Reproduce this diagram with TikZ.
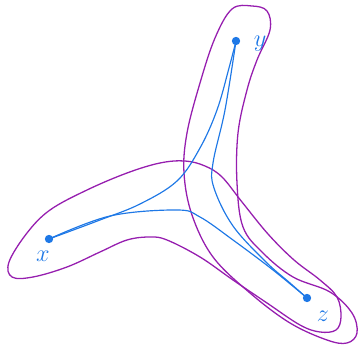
\documentclass[tikz,border=0pt]{standalone}
\usepackage{tikz}
\usetikzlibrary{positioning}

\definecolor{hyperpurple}{RGB}{150,30,175}
\definecolor{pathblue}{RGB}{30,120,230}

\begin{document}
\begin{tikzpicture}[
    x=0.03cm, y=-0.03cm,
    vertex/.style={
        circle,
        fill=pathblue,
        inner sep=0pt,
        minimum size=0.25cm
    },
    vlabel/.style={
        text=pathblue,
        font=\fontsize{20}{22}\selectfont
    },
    hyper/.style={
        draw=hyperpurple,
        line width=1.1pt
    },
    route/.style={
        draw=pathblue,
        line width=1pt
    }
]
\useasboundingbox (0,0) rectangle (359,346);

% === Vertices ===
\node[vertex] (px) at (49,239) {};
\node[vertex] (py) at (236,41) {};
\node[vertex] (pz) at (307,298) {};

% === Labels ===
\node[vlabel] (lx) at (43,256) {$x$};
\node[vlabel] (ly) at (260,44) {$y$};
\node[vlabel] (lz) at (323,316) {$z$};

% === Hyperedges ===
\draw[hyper] plot[smooth cycle, tension=0.6] coordinates {
    (9,262) (27,233) (50,210) (87,190) (127,173) (160,163) (185,161)
    (205,166) (222,177) (242,202) (268,234) (294,260) (320,280)
    (337,297) (341,317) (336,330) (320,332) (300,325) (267,303)
    (233,280) (200,257) (167,240) (150,237) (127,240) (100,252)
    (67,267) (33,277) (12,277)};
\draw[hyper] plot[smooth cycle, tension=0.6] coordinates {
    (232,9) (252,6) (267,11) (270,30) (257,60) (247,90) (238,133)
    (237,183) (243,227) (263,253) (293,277) (330,292) (352,313)
    (357,333) (347,343) (327,340) (290,323) (250,293) (213,257)
    (192,215) (184,173) (187,133) (200,83) (215,38)};

% === Routes ===
\draw[route] plot[smooth, tension=0.6] coordinates {
    (px.center) (100,220) (140,204) (177,181) (200,148) (217,110)
    (229,68) (py.center)};
\draw[route] plot[smooth, tension=0.6] coordinates {
    (py.center) (225,110) (213,163) (214,188) (233,226) (266,262)
    (290,283) (pz.center)};
\draw[route] plot[smooth, tension=0.6] coordinates {
    (px.center) (110,216) (177,210) (200,217) (233,240) (273,270)
    (pz.center)};
\end{tikzpicture}
\end{document}
